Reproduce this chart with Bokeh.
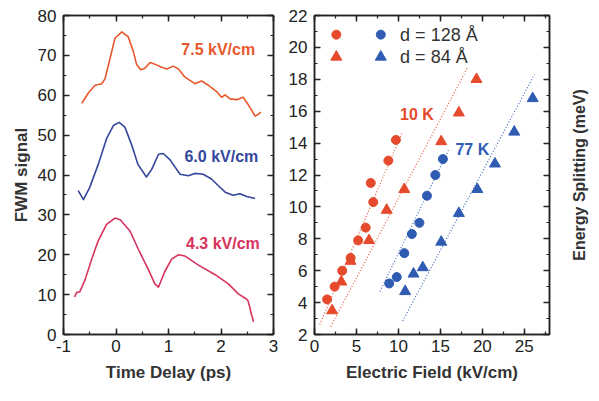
from bokeh.plotting import figure
from bokeh.layouts import row
from bokeh.models import LinearAxis, Range1d, SingleIntervalTicker, Label
from bokeh.embed import file_html
from bokeh.resources import INLINE

# ---------------- data: left panel (FWM signal vs time delay) ----------------
t_75 = [-0.65, -0.53, -0.4, -0.27, -0.21, -0.11, -0.02, 0.11, 0.23, 0.33, 0.39, 0.47,
        0.55, 0.65, 0.74, 0.87, 0.97, 1.09, 1.19, 1.31, 1.5, 1.63, 1.76, 1.92, 2.01,
        2.08, 2.17, 2.3, 2.42, 2.52, 2.65, 2.71, 2.76]
s_75 = [58.0, 60.5, 62.5, 62.9, 64.1, 69.4, 74.3, 75.9, 74.7, 71.0, 67.8, 66.4,
        66.8, 68.2, 67.8, 67.0, 66.6, 67.3, 66.6, 64.6, 62.9, 63.6, 62.5, 60.9, 59.5,
        60.1, 59.1, 58.9, 59.5, 57.6, 54.8, 55.2, 55.8]

t_60 = [-0.72, -0.62, -0.5, -0.34, -0.18, -0.05, 0.06, 0.17, 0.3, 0.42, 0.58, 0.68,
        0.81, 0.9, 1.03, 1.22, 1.38, 1.5, 1.66, 1.82, 1.95, 2.08, 2.23, 2.36, 2.49, 2.65]
s_60 = [36.1, 33.8, 36.9, 42.6, 49.1, 52.4, 53.2, 52.0, 47.5, 42.6, 39.5, 41.4,
        45.2, 45.4, 43.8, 40.2, 39.8, 40.4, 40.2, 39.0, 37.3, 35.7, 34.9, 35.3, 34.6, 34.1]

t_43 = [-0.79, -0.75, -0.69, -0.59, -0.46, -0.34, -0.18, -0.02, 0.08, 0.27, 0.42, 0.62,
        0.74, 0.81, 0.93, 1.06, 1.19, 1.31, 1.57, 1.89, 2.14, 2.33, 2.46, 2.51, 2.55,
        2.58, 2.62]
s_43 = [9.4, 10.5, 10.7, 13.7, 19.0, 23.5, 27.6, 29.2, 28.8, 25.9, 21.5, 16.2,
        12.7, 11.9, 15.8, 18.9, 20.0, 19.7, 17.4, 15.0, 12.7, 10.2, 9.1, 8.6, 6.8,
        5.0, 3.2]

curve_labels = ["7.5 kV/cm", "6.0 kV/cm", "4.3 kV/cm"]
curve_label_x = [2.65, 2.71, 2.74]
curve_label_y = [71.5, 44.6, 22.7]

# ---------------- data: right panel (energy splitting vs field) ----------------
f_10K_128 = [1.5, 2.4, 3.3, 4.3, 5.2, 6.1, 6.7, 7.0, 8.8, 9.7]
e_10K_128 = [4.2, 5.0, 6.0, 6.8, 7.9, 8.7, 11.5, 10.3, 12.9, 14.2]
f_10K_84 = [2.1, 3.2, 4.3, 6.5, 8.6, 10.7, 15.1, 17.2, 19.3]
e_10K_84 = [3.5, 5.3, 6.6, 7.9, 9.8, 11.1, 14.1, 15.9, 18.0]
f_77K_128 = [8.9, 9.8, 10.7, 11.6, 12.5, 13.4, 14.4, 15.3]
e_77K_128 = [5.2, 5.6, 7.1, 8.3, 9.0, 10.7, 12.0, 13.0]
f_77K_84 = [10.8, 11.8, 12.9, 15.1, 17.2, 19.4, 21.5, 23.8, 26.0]
e_77K_84 = [4.7, 5.8, 6.2, 7.8, 9.6, 11.1, 12.7, 14.7, 16.8]

fit_10K_128_x = [0.63, 10.4]
fit_10K_128_y = [2.63, 14.6]
fit_10K_84_x = [1.93, 18.2]
fit_10K_84_y = [2.5, 18.7]
fit_77K_128_x = [7.8, 16.0]
fit_77K_128_y = [4.7, 13.6]
fit_77K_84_x = [10.5, 26.2]
fit_77K_84_y = [2.85, 18.3]

legend_labels = ["d = 128 Å", "d = 84 Å"]
temp_labels = ["10 K", "77 K"]

# ---------------- styling ----------------
FONT = "Liberation Sans"
INK = "#222222"
RED = "#e64a2c"
BLUE = "#2f5cb2"
C75 = "#e8582e"
C60 = "#34479c"
C43 = "#d7325c"
H = 400


def style_axis(ax, show_labels=True, standoff=6):
    ax.major_tick_in = 6
    ax.major_tick_out = 0
    ax.minor_tick_in = 3
    ax.minor_tick_out = 0
    ax.axis_line_color = INK
    ax.axis_line_width = 1.5
    ax.major_tick_line_color = INK
    ax.minor_tick_line_color = INK
    ax.major_tick_line_width = 1.5
    ax.minor_tick_line_width = 1.2
    ax.major_label_text_font = FONT
    if show_labels:
        ax.major_label_text_color = INK
        ax.major_label_text_font_size = "17px"
        ax.major_label_standoff = standoff
    else:
        ax.major_label_text_color = None
        ax.major_label_text_font_size = "0px"
        ax.major_label_standoff = 0
        ax.axis_label_standoff = 0
    ax.axis_label_text_font = FONT
    ax.axis_label_text_font_style = "bold"
    ax.axis_label_text_font_size = "17px"
    ax.axis_label_text_color = "#333333"


def make_fig(width, xr, yr, xint, yint, bl, br):
    p = figure(width=width, height=H, x_range=Range1d(*xr), y_range=Range1d(*yr),
               output_backend="svg", toolbar_location=None,
               min_border_left=bl, min_border_right=br, min_border_top=15,
               min_border_bottom=H - 343)
    p.xgrid.visible = False
    p.ygrid.visible = False
    p.outline_line_color = INK
    p.outline_line_width = 1.5
    bottom = p.below[0]
    left = p.left[0]
    bottom.ticker = SingleIntervalTicker(interval=xint, num_minor_ticks=2)
    left.ticker = SingleIntervalTicker(interval=yint, num_minor_ticks=2)
    style_axis(bottom, True, 5)
    style_axis(left, True, 7)
    top = LinearAxis(ticker=SingleIntervalTicker(interval=xint, num_minor_ticks=2))
    style_axis(top, False)
    p.add_layout(top, "above")
    right = LinearAxis(ticker=SingleIntervalTicker(interval=yint, num_minor_ticks=2))
    style_axis(right, False)
    p.add_layout(right, "right")
    return p, bottom, left


# ---------------- left panel ----------------
p1, b1, l1 = make_fig(285, (-1, 3), (0, 80), 1, 10, 63, 12)
b1.axis_label = "Time Delay (ps)"
b1.axis_label_standoff = 8
b1.major_label_overrides = {-1: "-1"}
l1.axis_label = "FWM signal"
l1.axis_label_standoff = 4

p1.line(t_75, s_75, line_color=C75, line_width=1.6, line_join="round")
p1.line(t_60, s_60, line_color=C60, line_width=1.6, line_join="round")
p1.line(t_43, s_43, line_color=C43, line_width=1.6, line_join="round")

for txt, x, y, c in zip(curve_labels, curve_label_x, curve_label_y, [C75, C60, C43]):
    p1.add_layout(Label(x=x, y=y, text=txt, text_align="right", text_baseline="middle",
                        text_font=FONT, text_font_style="bold", text_font_size="16px",
                        text_color=c))

# ---------------- right panel ----------------
p2, b2, l2 = make_fig(282, (0, 28), (2, 22), 5, 2, 28, 18)
b2.axis_label = "Electric Field (kV/cm)"
b2.axis_label_standoff = 8

for xs, ys, c in [(fit_10K_128_x, fit_10K_128_y, RED), (fit_10K_84_x, fit_10K_84_y, RED),
                  (fit_77K_128_x, fit_77K_128_y, BLUE), (fit_77K_84_x, fit_77K_84_y, BLUE)]:
    p2.line(xs, ys, line_color=c, line_width=1.2, line_dash="1 2", line_alpha=0.9)

p2.scatter(f_10K_128, e_10K_128, marker="circle", size=9, fill_color=RED, line_color=RED)
p2.scatter(f_10K_84, e_10K_84, marker="triangle", size=11, fill_color=RED, line_color=RED)
p2.scatter(f_77K_128, e_77K_128, marker="circle", size=9, fill_color=BLUE, line_color=BLUE)
p2.scatter(f_77K_84, e_77K_84, marker="triangle", size=11, fill_color=BLUE, line_color=BLUE)

# legend (two marker columns, one text column)
p2.scatter([2.6, 7.9], [20.8, 20.8], marker="circle", size=9,
           fill_color=[RED, BLUE], line_color=[RED, BLUE])
p2.scatter([2.6, 7.9], [19.4, 19.4], marker="triangle", size=11,
           fill_color=[RED, BLUE], line_color=[RED, BLUE])
for txt, y in zip(legend_labels, [20.8, 19.4]):
    p2.add_layout(Label(x=10.2, y=y, text=txt, text_align="left", text_baseline="middle",
                        text_font=FONT, text_font_size="18px", text_color="#333333"))

for txt, x, y, c in zip(temp_labels, [12.2, 18.8], [15.8, 13.6], [RED, BLUE]):
    p2.add_layout(Label(x=x, y=y, text=txt, text_align="center", text_baseline="middle",
                        text_font=FONT, text_font_style="bold", text_font_size="16px",
                        text_color=c))

# ---------------- right-side title strip (reads bottom-to-top) ----------------
p3 = figure(width=30, height=H, x_range=Range1d(0, 1), y_range=Range1d(2, 22),
            output_backend="svg", toolbar_location=None,
            min_border_left=0, min_border_right=0, min_border_top=15,
            min_border_bottom=H - 334)
p3.xaxis.visible = False
p3.xgrid.visible = False
p3.ygrid.visible = False
p3.outline_line_color = None
ax3 = p3.left[0]
ax3.major_tick_in = 0
ax3.major_tick_out = 0
ax3.minor_tick_in = 0
ax3.minor_tick_out = 0
ax3.axis_line_color = None
ax3.major_tick_line_color = None
ax3.minor_tick_line_color = None
ax3.major_label_text_color = None
ax3.major_label_text_font_size = "0px"
ax3.major_label_standoff = 0
ax3.axis_label = "Energy Splitting (meV)"
ax3.axis_label_standoff = 0
ax3.axis_label_text_font = FONT
ax3.axis_label_text_font_style = "bold"
ax3.axis_label_text_font_size = "16px"
ax3.axis_label_text_color = "#333333"

layout = row(p1, p2, p3, spacing=0)
open("out.html", "w").write(file_html(layout, INLINE))
